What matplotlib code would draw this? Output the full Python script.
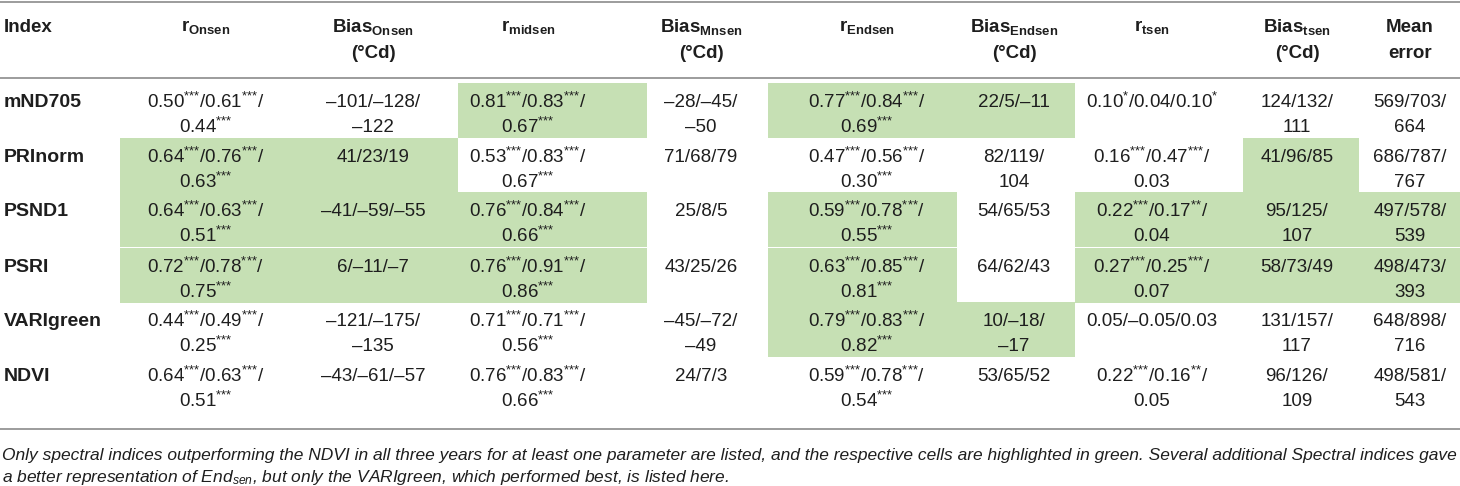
import re
import matplotlib
matplotlib.use("Agg")
import matplotlib.pyplot as plt
from matplotlib.patches import Rectangle

# table content
row_labels = ["mND705", "PRInorm", "PSND1", "PSRI", "VARIgreen", "NDVI"]
col_heads = [r"r$_{\mathbf{Onsen}}$", r"Bias$_{\mathbf{Onsen}}$", r"r$_{\mathbf{midsen}}$",
             r"Bias$_{\mathbf{Mnsen}}$", r"r$_{\mathbf{Endsen}}$", r"Bias$_{\mathbf{Endsen}}$",
             r"r$_{\mathbf{tsen}}$", r"Bias$_{\mathbf{tsen}}$", "Mean"]
col_units = ["", "(°Cd)", "", "(°Cd)", "", "(°Cd)", "", "(°Cd)", "error"]

cells = [
    ["0.50***/0.61***/\n0.44***", "–101/–128/\n–122", "0.81***/0.83***/\n0.67***", "–28/–45/\n–50",
     "0.77***/0.84***/\n0.69***", "22/5/–11", "0.10*/0.04/0.10*", "124/132/\n111", "569/703/\n664"],
    ["0.64***/0.76***/\n0.63***", "41/23/19", "0.53***/0.83***/\n0.67***", "71/68/79",
     "0.47***/0.56***/\n0.30***", "82/119/\n104", "0.16***/0.47***/\n0.03", "41/96/85", "686/787/\n767"],
    ["0.64***/0.63***/\n0.51***", "–41/–59/–55", "0.76***/0.84***/\n0.66***", "25/8/5",
     "0.59***/0.78***/\n0.55***", "54/65/53", "0.22***/0.17**/\n0.04", "95/125/\n107", "497/578/\n539"],
    ["0.72***/0.78***/\n0.75***", "6/–11/–7", "0.76***/0.91***/\n0.86***", "43/25/26",
     "0.63***/0.85***/\n0.81***", "64/62/43", "0.27***/0.25***/\n0.07", "58/73/49", "498/473/\n393"],
    ["0.44***/0.49***/\n0.25***", "–121/–175/\n–135", "0.71***/0.71***/\n0.56***", "–45/–72/\n–49",
     "0.79***/0.83***/\n0.82***", "10/–18/\n–17", "0.05/–0.05/0.03", "131/157/\n117", "648/898/\n716"],
    ["0.64***/0.63***/\n0.51***", "–43/–61/–57", "0.76***/0.83***/\n0.66***", "24/7/3",
     "0.59***/0.78***/\n0.54***", "53/65/52", "0.22***/0.16**/\n0.05", "96/126/\n109", "498/581/\n543"],
]

# 1 = cell highlighted in green
highlight = [
    [0, 0, 1, 0, 1, 1, 0, 0, 0],
    [1, 1, 0, 0, 0, 0, 0, 1, 0],
    [1, 1, 1, 0, 1, 0, 1, 1, 1],
    [1, 1, 1, 0, 1, 0, 1, 1, 1],
    [0, 0, 0, 0, 1, 1, 0, 0, 0],
    [0, 0, 0, 0, 0, 0, 0, 0, 0],
]

foot1 = ("Only spectral indices outperforming the NDVI in all three years for at least one parameter are listed, "
         "and the respective cells are highlighted in green. Several additional Spectral indices gave")
foot2 = r"a better representation of End$_{\mathit{sen}}$, but only the VARIgreen, which performed best, is listed here."

# layout (pixels)
col_edges = [0, 120, 307, 458, 647, 768, 957, 1075, 1243, 1359, 1460]
col_centers = [206, 373, 528, 701, 867, 1014, 1152, 1297, 1410]
row_tops = [83, 138, 192, 248, 302, 357]
row_h = 55
green = "#c6e0b4"
ink = "#1e1e1e"
rule = "#9c9c9c"

plt.rcParams.update({
    "font.family": ["Liberation Sans", "DejaVu Sans"],
    "mathtext.fontset": "custom",
    "mathtext.rm": "Liberation Sans",
    "mathtext.bf": "Liberation Sans:bold",
    "mathtext.it": "Liberation Sans:italic",
})

def sup(s):
    return re.sub(r"(\*+)", lambda m: r"$^{\text{" + m.group(1) + "}}$", s)

fig = plt.figure(figsize=(14.6, 4.86), dpi=100)
ax = fig.add_axes([0, 0, 1, 1])
ax.set_xlim(0, 1460); ax.set_ylim(486, 0); ax.axis("off")

ax.hlines([2, 78, 429], 0, 1460, color=rule, lw=1.4)

# header
ax.text(4, 27, "Index", fontsize=13.5, fontweight="bold", color=ink, va="center", ha="left")
for j, (h, u) in enumerate(zip(col_heads, col_units)):
    ax.text(col_centers[j], 27, h, fontsize=13.5, fontweight="bold", color=ink, va="center", ha="center")
    if u:
        ax.text(col_centers[j], 54, u, fontsize=13.5, fontweight="bold", color=ink, va="center", ha="center")

# body
for i, lab in enumerate(row_labels):
    top = row_tops[i]
    y1, y2 = top + 19, top + 44
    ax.text(4, y1, lab, fontsize=14, fontweight="bold", color=ink, va="center", ha="left")
    for j, txt in enumerate(cells[i]):
        if highlight[i][j]:
            x0, x1 = col_edges[j + 1], col_edges[j + 2]
            ax.add_patch(Rectangle((x0, top), x1 - x0, row_h, facecolor=green, edgecolor="none", zorder=0))
        for k, line in enumerate(txt.split("\n")):
            ax.text(col_centers[j], (y1, y2)[k], sup(line), fontsize=13.5, color=ink,
                    va="center", ha="center", zorder=2)

# footnote, sized to span the full width
f1 = ax.text(2, 455, foot1, fontsize=11, style="italic", color=ink, va="center", ha="left")
fig.canvas.draw()
fs = 11 * 1454 / f1.get_window_extent().width
f1.set_fontsize(fs)
ax.text(2, 477, foot2, fontsize=fs, style="italic", color=ink, va="center", ha="left")

fig.savefig("out.png", dpi=100)
